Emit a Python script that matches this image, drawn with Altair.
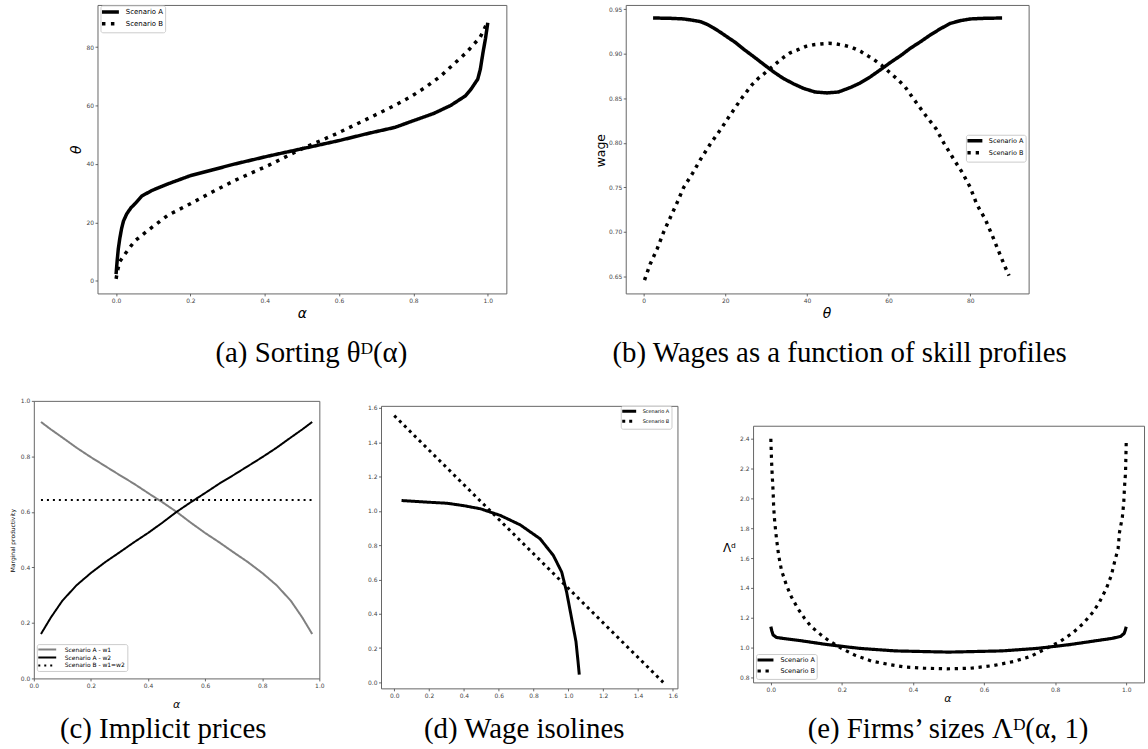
import altair as alt
import pandas as pd

# ---------------- data ----------------
# (a) sorting theta(alpha)
a_alpha_A = [0.0, 0.003, 0.006, 0.01, 0.015, 0.02, 0.029, 0.04, 0.051, 0.069, 0.096, 0.14, 0.2, 0.26,
             0.32, 0.41, 0.5, 0.6, 0.68, 0.75, 0.8, 0.855, 0.9, 0.94, 0.955, 0.973, 0.98, 0.987, 0.994, 1.0]
a_theta_A = [2.3, 7.0, 11.0, 14.5, 18.0, 20.5, 23.0, 25.0, 26.4, 29.0, 30.9, 33.2, 36.0, 38.0,
             40.0, 42.7, 45.2, 48.0, 50.5, 52.5, 54.8, 57.3, 60.0, 63.3, 65.6, 69.0, 72.4, 78.0, 83.0, 88.3]
a_alpha_B = [0.0, 0.004, 0.01, 0.024, 0.05, 0.087, 0.14, 0.2, 0.26, 0.32, 0.41, 0.5, 0.587, 0.676,
             0.754, 0.794, 0.832, 0.872, 0.908, 0.944, 0.962, 0.979, 0.99, 1.0]
a_theta_B = [0.7, 3.5, 6.6, 9.2, 13.6, 17.4, 22.5, 26.4, 30.5, 34.4, 39.5, 45.2, 50.0, 55.4,
             60.3, 63.1, 66.2, 69.9, 74.1, 78.3, 80.9, 83.2, 86.0, 88.9]

# (b) wage as a function of theta
b_theta_A = [2.3, 6.0, 9.8, 12.0, 13.9, 15.5, 17.1, 18.8, 20.4, 22.5, 24.5, 27.0, 29.4, 32.0, 34.3,
             36.8, 39.2, 42.0, 44.9, 47.7, 50.6, 53.0, 55.5, 58.0, 60.4, 63.0, 65.3, 68.0, 70.2,
             72.7, 75.1, 77.5, 80.0, 84.0, 87.8]
b_wage_A = [0.940, 0.9398, 0.939, 0.9375, 0.936, 0.933, 0.929, 0.924, 0.919, 0.9125, 0.905, 0.8965,
            0.888, 0.879, 0.872, 0.866, 0.861, 0.857, 0.856, 0.857, 0.862, 0.867, 0.874, 0.882,
            0.890, 0.898, 0.906, 0.914, 0.921, 0.928, 0.934, 0.937, 0.939, 0.9398, 0.940]
b_theta_B = [0.2, 1.6, 3.3, 4.9, 6.5, 8.2, 9.8, 12.0, 14.0, 16.5, 19.0, 21.0, 24.0, 26.5, 28.0, 29.6,
             32.7, 34.3, 35.9, 37.8, 39.6, 41.6, 43.4, 45.3, 47.0, 49.0, 51.0, 53.1, 55.1, 56.5,
             58.3, 60.0, 62.0, 64.0, 66.0, 69.2, 71.6, 73.5, 75.9, 78.0, 80.0, 81.6, 83.7, 85.3,
             86.9, 88.6, 89.5]
b_wage_B = [0.646, 0.664, 0.681, 0.700, 0.716, 0.733, 0.750, 0.766, 0.782, 0.800, 0.816, 0.830,
            0.850, 0.865, 0.872, 0.878, 0.890, 0.896, 0.901, 0.9045, 0.908, 0.910, 0.911, 0.9116,
            0.911, 0.9095, 0.907, 0.9027, 0.897, 0.893, 0.887, 0.880, 0.872, 0.863, 0.850, 0.830,
            0.816, 0.800, 0.782, 0.767, 0.750, 0.731, 0.714, 0.697, 0.679, 0.660, 0.651]

# (c) implicit prices
c_alpha = [0.025, 0.06, 0.1, 0.15, 0.2, 0.25, 0.3, 0.35, 0.4, 0.45, 0.5, 0.55, 0.6, 0.65, 0.7,
           0.75, 0.8, 0.85, 0.9, 0.94, 0.975]
c_w1_A = [0.924, 0.897, 0.868, 0.831, 0.797, 0.765, 0.733, 0.702, 0.668, 0.635, 0.600, 0.561,
          0.524, 0.490, 0.454, 0.419, 0.380, 0.336, 0.280, 0.220, 0.160]
c_w2_A = [0.160, 0.220, 0.280, 0.336, 0.380, 0.419, 0.454, 0.490, 0.524, 0.561, 0.600, 0.635,
          0.668, 0.702, 0.733, 0.765, 0.797, 0.831, 0.868, 0.897, 0.924]
c_alpha_B = [0.025, 0.975]
c_w_B = [0.643, 0.643]

# (d) wage isolines
d_x_A = [0.042, 0.2, 0.305, 0.4, 0.495, 0.61, 0.724, 0.838, 0.914, 0.962, 0.99, 1.019, 1.044, 1.055, 1.063]
d_y_A = [1.06, 1.05, 1.044, 1.03, 1.012, 0.973, 0.918, 0.837, 0.74, 0.643, 0.528, 0.373, 0.238, 0.13, 0.045]
d_x_B = [0.0, 1.545]
d_y_B = [1.555, 0.0]

# (e) firms' sizes
e_alpha_A = [0.0, 0.003, 0.0065, 0.016, 0.04, 0.08, 0.16, 0.25, 0.35, 0.5, 0.65, 0.75, 0.84, 0.92,
             0.96, 0.984, 0.994, 0.997, 1.0]
e_size_A = [1.14, 1.11, 1.085, 1.068, 1.06, 1.048, 1.02, 0.995, 0.978, 0.970, 0.978, 0.995, 1.02,
            1.048, 1.062, 1.075, 1.095, 1.115, 1.14]
e_alpha_B = [0.0, 0.002, 0.004, 0.0065, 0.008, 0.011, 0.016, 0.022, 0.03, 0.044, 0.058, 0.076, 0.095,
             0.114, 0.142, 0.165, 0.198, 0.235, 0.282, 0.328, 0.375, 0.431, 0.496, 0.562, 0.627,
             0.683, 0.73, 0.776, 0.813, 0.851, 0.879, 0.907, 0.925, 0.944, 0.958, 0.967, 0.977,
             0.981, 0.989, 0.993, 0.995, 0.998, 1.0]
e_size_B = [2.4, 2.251, 2.151, 2.04, 1.94, 1.84, 1.729, 1.618, 1.518, 1.418, 1.34, 1.262, 1.196,
            1.14, 1.084, 1.044, 0.996, 0.951, 0.911, 0.889, 0.871, 0.862, 0.858, 0.862, 0.88,
            0.907, 0.94, 0.996, 1.04, 1.102, 1.162, 1.24, 1.307, 1.396, 1.484, 1.573, 1.662,
            1.773, 1.873, 1.973, 2.073, 2.173, 2.384]

series_AB = ["Scenario A", "Scenario B"]
series_c = ["Scenario A - w1", "Scenario A - w2", "Scenario B - w1=w2"]

# tick labels
ticks_01 = [0.0, 0.2, 0.4, 0.6, 0.8, 1.0]
ticks_a_y = [0, 20, 40, 60, 80]
ticks_b_x = [0, 20, 40, 60, 80]
ticks_b_y = [0.65, 0.70, 0.75, 0.80, 0.85, 0.90, 0.95]
ticks_d = [0.0, 0.2, 0.4, 0.6, 0.8, 1.0, 1.2, 1.4, 1.6]
ticks_e_y = [0.8, 1.0, 1.2, 1.4, 1.6, 1.8, 2.0, 2.2, 2.4]

captions = ["(a) Sorting θᴰ(α)", "(b) Wages as a function of skill profiles",
            "(c) Implicit prices", "(d) Wage isolines", "(e) Firms’ sizes Λᴰ(α, 1)"]


def make_df(groups):
    rows = []
    for name, xs, ys in groups:
        for i, (x, y) in enumerate(zip(xs, ys)):
            rows.append({"x": x, "y": y, "series": name, "order": i})
    return pd.DataFrame(rows)


ONE = pd.DataFrame({"k": [0]})


def axis(values, fmt, title=None, tx=0, ty=0, size=12, italic=True, angle=0):
    if title is None:
        return alt.Axis(values=values, format=fmt, title=None)
    return alt.Axis(values=values, format=fmt, title=title, titleX=tx, titleY=ty,
                    titleFontSize=size, titleFontStyle="italic" if italic else "normal",
                    titleAlign="center", titleBaseline="middle", titleAngle=angle)


def legend(x, y, fs, pad, rowpad, length, sw):
    # short horizontal stroke symbol drawn 3x wider than its layout size
    s = length / 3.0
    entry = max(int(-(-(s + sw) // 1)), fs)
    return alt.Legend(orient="none", legendX=x, legendY=y, title=None, labelFontSize=fs,
                      labelFont="DejaVu Sans", labelColor="black", padding=pad,
                      rowPadding=rowpad,
                      symbolType="M-3,0H3", symbolSize=s * s, symbolStrokeWidth=sw,
                      symbolOffset=length / 2 - entry / 2, labelOffset=length + 3.5 - entry,
                      fillColor="white", strokeColor="#cccccc", cornerRadius=2)


def panel(df, w, h, xdom, ydom, xax, yax, series, colors, dashes, sw, leg, box, caption, cap_xy):
    lines = alt.Chart(df).mark_line(strokeWidth=sw, strokeCap="butt", strokeJoin="round").encode(
        x=alt.X("x:Q", scale=alt.Scale(domain=xdom, nice=False, zero=False), axis=xax),
        y=alt.Y("y:Q", scale=alt.Scale(domain=ydom, nice=False, zero=False), axis=yax),
        color=alt.Color("series:N", scale=alt.Scale(domain=series, range=colors), legend=leg),
        strokeDash=alt.StrokeDash("series:N", scale=alt.Scale(domain=series, range=dashes), legend=leg),
        order="order:Q",
    )
    L, T, R, B = box
    frame = alt.Chart(ONE).mark_rule(opacity=0, strokeWidth=0).encode(
        x=alt.value(-L), x2=alt.value(R), y=alt.value(-T), y2=alt.value(B))
    cap = alt.Chart(ONE).mark_text(text=caption, font="Liberation Serif", fontSize=29,
                                   align="center", baseline="middle", color="black").encode(
        x=alt.value(cap_xy[0]), y=alt.value(cap_xy[1]))
    return alt.layer(lines, frame, cap).properties(width=w, height=h)


def spacer():
    return alt.Chart(ONE).mark_rule(opacity=0, strokeWidth=0).encode(
        x=alt.value(0), y=alt.value(0)).properties(
        width=1, height=1, view=alt.ViewBackground(strokeOpacity=0))


def indep(ch):
    return ch.resolve_scale(color="independent", strokeDash="independent").resolve_legend(
        color="independent", strokeDash="independent")


df_a = make_df([("Scenario A", a_alpha_A, a_theta_A), ("Scenario B", a_alpha_B, a_theta_B)])
df_b = make_df([("Scenario A", b_theta_A, b_wage_A), ("Scenario B", b_theta_B, b_wage_B)])
df_c = make_df([("Scenario A - w1", c_alpha, c_w1_A), ("Scenario A - w2", c_alpha, c_w2_A),
                ("Scenario B - w1=w2", c_alpha_B, c_w_B)])
df_d = make_df([("Scenario A", d_x_A, d_y_A), ("Scenario B", d_x_B, d_y_B)])
df_e = make_df([("Scenario A", e_alpha_A, e_size_A), ("Scenario B", e_alpha_B, e_size_B)])

pa = panel(df_a, 411, 290, [-0.05, 1.05], [-4.3, 94.4],
           axis(ticks_01, ".1f", "α", 205.5, 20, 14),
           axis(ticks_a_y, "d", "θ", -21, 145, 14, True, 270),
           series_AB, ["black", "black"], [[1, 0], [3.5, 5.5]], 3.5,
           legend(3, 0.5, 7, 1.5, -3, 17, 3.5), (62, 2, 464, 378), captions[0], (215, 350))

pb = panel(df_b, 405, 290, [-4.4, 94.3], [0.631, 0.9547],
           axis(ticks_b_x, "d", "θ", 201.7, 20, 14),
           axis(ticks_b_y, ".2f", "wage", -25.7, 146, 12.5, False, 270),
           series_AB, ["black", "black"], [[1, 0], [3.3, 5.0]], 3.5,
           legend(342, 130.5, 6.5, 1.5, -4.5, 15, 3.5), (65, 2, 523, 378), captions[1], (215, 350))

pc = panel(df_c, 287, 279, [0, 1], [0, 1],
           axis(ticks_01, ".1f", "α", 143, 26, 11),
           axis(ticks_01, ".1f", "Marginal productivity", -21.3, 140, 6, False, 270),
           series_c, ["#808080", "black", "black"], [[1, 0], [1, 0], [2, 4]], 2,
           legend(3, 244.5, 6, 1.5, -0.5, 18, 2), (33, 17, 317, 351), captions[2], (130, 330))

pd_ = panel(df_d, 298, 284, [-0.076, 1.627], [-0.035, 1.612],
            axis(ticks_d, ".1f"), axis(ticks_d, ".1f"),
            series_AB, ["black", "black"], [[1, 0], [3, 4]], 3,
            legend(241, 0, 5, 1.5, -5, 14, 3), (30, 22, 335, 346), captions[3], (144, 325))

pe = panel(df_e, 393, 258, [-0.05, 1.05], [0.767, 2.487],
           axis(ticks_01, ".1f", "α", 195.4, 15.7, 11),
           axis(ticks_e_y, ".1f", "Λᵈ", -24.3, 122, 12, False, 0),
           series_AB, ["black", "black"], [[1, 0], [3.3, 4.7]], 3.2,
           legend(3, 229.5, 6.5, 1.5, -4.5, 16, 3), (37, 42, 396, 326), captions[4], (196, 305))

row1 = indep(alt.hconcat(spacer(), pa, pb, spacing=0))
row2 = indep(alt.hconcat(
    indep(alt.vconcat(spacer(), pc, spacing=0)),
    indep(alt.vconcat(spacer(), pd_, spacing=0)),
    indep(alt.vconcat(spacer(), pe, spacing=0)),
    spacing=0))

chart = indep(alt.vconcat(row1, row2, spacing=0)).properties(padding=0).configure_view(
    stroke="#666666", strokeWidth=1).configure_axis(
    domain=False, grid=False, labelFont="DejaVu Sans", labelFontSize=6, labelColor="#444444",
    tickColor="#444444", tickSize=2.5, tickWidth=0.8, labelPadding=1.5, labelFlush=False,
    labelOverlap=False, titleFont="DejaVu Sans", titleFontWeight="normal", titleColor="black",
)

chart.save("out.html", embed_options={"renderer": "svg", "actions": False})
